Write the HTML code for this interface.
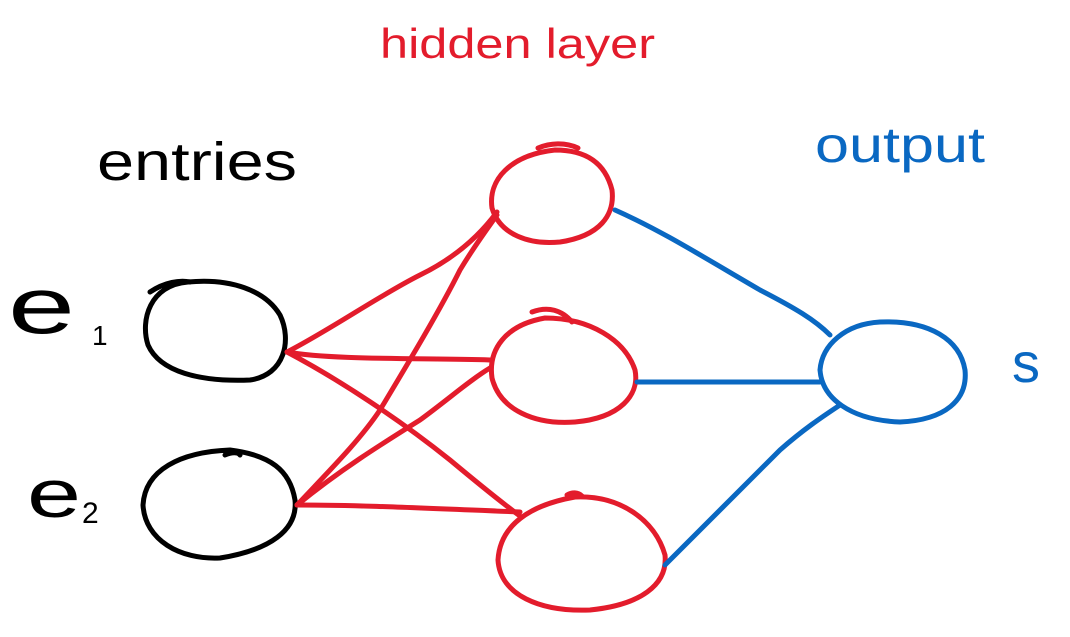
<!DOCTYPE html>
<html><head><meta charset="utf-8"><style>
html,body{margin:0;padding:0;background:#fff;width:1070px;height:637px;overflow:hidden}
svg{display:block}
text{font-family:"Liberation Sans","DejaVu Sans",sans-serif}
</style></head><body>
<svg width="1070" height="637" viewBox="0 0 1070 637" xmlns="http://www.w3.org/2000/svg">
<g fill="none" stroke-width="5" stroke-linecap="round" stroke-linejoin="round">
<g stroke="#000">
<path d="M188 282 C150 285 140 320 148 345 C160 372 200 382 250 380 C285 375 292 340 280 315 C265 290 230 278 188 282 Z M150 292 C165 282 180 280 190 282"/>
<path d="M230 450 C180 452 145 470 143 505 C145 540 180 560 220 558 C270 550 298 530 295 500 C290 470 270 455 230 450 Z M225 455 C232 452 238 452 240 455"/>
</g>
<g stroke="#e31c2c">
<path d="M555 150 C510 155 488 180 492 208 C500 235 530 245 560 242 C600 236 615 215 612 190 C605 162 585 150 555 150 Z M538 148 C550 143 565 142 578 148"/>
<path d="M545 318 C505 325 488 350 492 378 C500 410 535 425 575 422 C620 418 640 395 635 370 C625 340 590 318 545 318 Z M532 312 C548 306 562 310 572 322"/>
<path d="M575 497 C530 505 500 525 498 560 C500 595 540 612 590 610 C640 605 668 585 665 555 C655 520 620 495 575 497 Z M567 495 C572 492 578 492 582 496"/>
<path d="M287 352 C330 330 380 295 420 275 C455 258 480 235 497 212"/>
<path d="M287 352 C330 360 420 358 490 360"/>
<path d="M287 352 C340 380 400 420 450 460 C480 485 505 505 520 516"/>
<path d="M297 505 C330 470 360 440 380 410 C410 360 440 310 460 270 C475 245 490 225 497 215"/>
<path d="M297 505 C340 470 380 445 420 420 C450 398 470 380 490 368"/>
<path d="M297 505 C360 505 420 508 520 512"/>
</g>
<g stroke="#0a68c2">
<path d="M880 322 C845 324 822 345 820 370 C822 398 850 420 900 422 C945 420 968 400 965 370 C960 340 930 320 880 322 Z"/>
<path d="M615 210 C660 230 700 255 760 290 C795 308 815 320 830 335"/>
<path d="M637 382 L820 382"/>
<path d="M665 565 C700 530 740 490 780 450 C805 428 825 415 840 405"/>
</g>
</g>
<text x="380" y="58" font-size="42" fill="#e31c2c" textLength="275" lengthAdjust="spacingAndGlyphs">hidden layer</text>
<text x="97" y="180" font-size="54" fill="#000" textLength="200" lengthAdjust="spacingAndGlyphs">entries</text>
<text x="815" y="162" font-size="50" fill="#0a68c2" textLength="170" lengthAdjust="spacingAndGlyphs">output</text>
<text x="8" y="333" font-size="80" fill="#000" textLength="67" lengthAdjust="spacingAndGlyphs">e</text>
<text x="92" y="345" font-size="28" fill="#000">1</text>
<text x="27" y="517" font-size="68" fill="#000" textLength="54" lengthAdjust="spacingAndGlyphs">e</text>
<text x="82" y="523" font-size="30" fill="#000">2</text>
<text x="1012" y="382" font-size="56" fill="#0a68c2">s</text>
</svg>
</body></html>
